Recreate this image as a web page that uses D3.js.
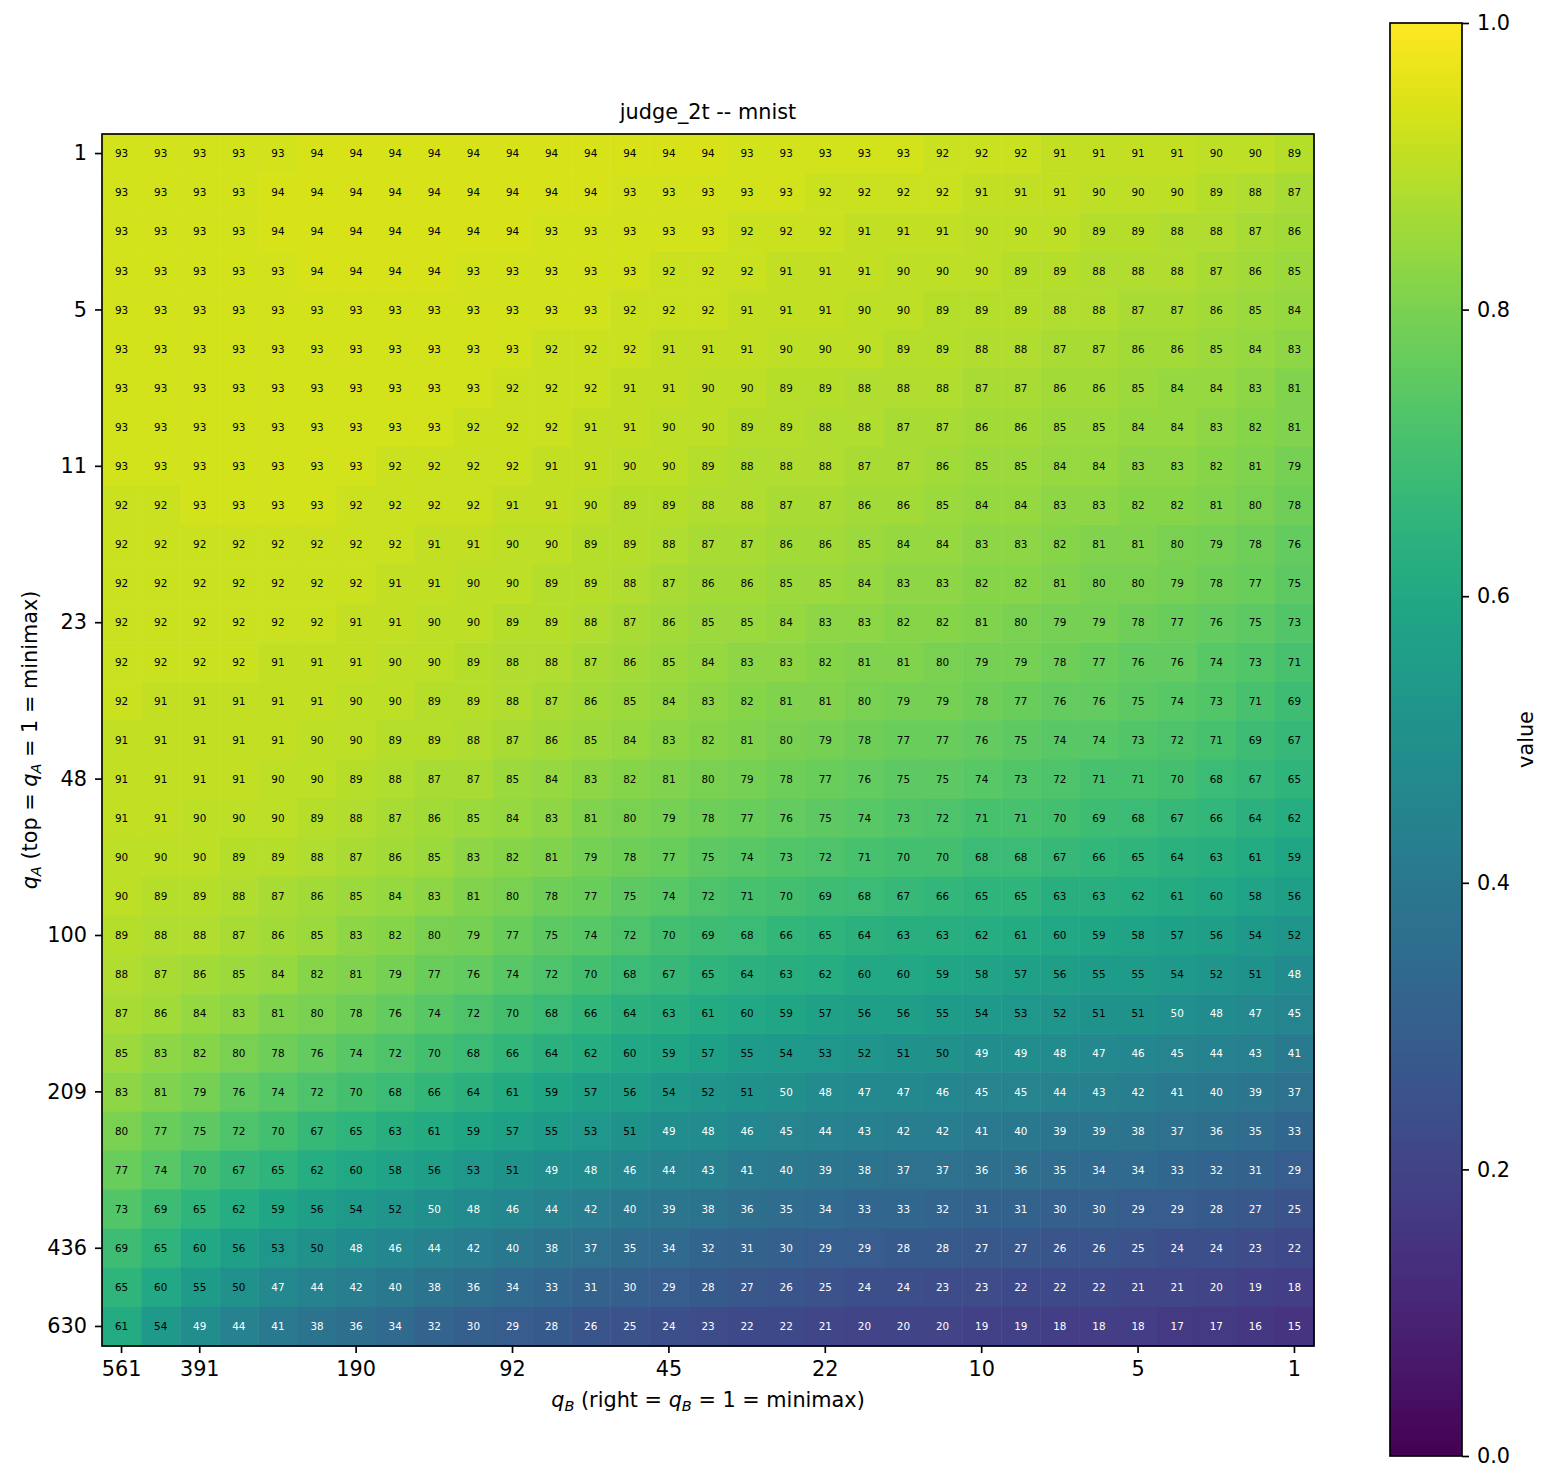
<!DOCTYPE html>
<html>
<head>
<meta charset="utf-8">
<script src="https://cdn.jsdelivr.net/npm/d3@7"></script>
<style>
  html, body { margin: 0; padding: 0; background: #fff; }
  svg text { font-family: "DejaVu Sans", sans-serif; fill: #000; }
</style>
</head>
<body>
<div id="chart"></div>
<script>
// ---------- data ----------
const chartTitle = "judge_2t -- mnist";

// row tick positions / labels (q_A), column tick positions / labels (q_B)
const qATickRows = [0, 4, 8, 12, 16, 20, 24, 28, 30];
const qATickLabels = ["1", "5", "11", "23", "48", "100", "209", "436", "630"];
const qBTickCols = [0, 2, 6, 10, 14, 18, 22, 26, 30];
const qBTickLabels = ["561", "391", "190", "92", "45", "22", "10", "5", "1"];

const colorbarTicks = [0, 0.2, 0.4, 0.6, 0.8, 1.0];

// cell values (percent), top row = q_A 1, right column = q_B 1
const scores = [
  [93,93,93,93,93,94,94,94,94,94,94,94,94,94,94,94,93,93,93,93,93,92,92,92,91,91,91,91,90,90,89],
  [93,93,93,93,94,94,94,94,94,94,94,94,94,93,93,93,93,93,92,92,92,92,91,91,91,90,90,90,89,88,87],
  [93,93,93,93,94,94,94,94,94,94,94,93,93,93,93,93,92,92,92,91,91,91,90,90,90,89,89,88,88,87,86],
  [93,93,93,93,93,94,94,94,94,93,93,93,93,93,92,92,92,91,91,91,90,90,90,89,89,88,88,88,87,86,85],
  [93,93,93,93,93,93,93,93,93,93,93,93,93,92,92,92,91,91,91,90,90,89,89,89,88,88,87,87,86,85,84],
  [93,93,93,93,93,93,93,93,93,93,93,92,92,92,91,91,91,90,90,90,89,89,88,88,87,87,86,86,85,84,83],
  [93,93,93,93,93,93,93,93,93,93,92,92,92,91,91,90,90,89,89,88,88,88,87,87,86,86,85,84,84,83,81],
  [93,93,93,93,93,93,93,93,93,92,92,92,91,91,90,90,89,89,88,88,87,87,86,86,85,85,84,84,83,82,81],
  [93,93,93,93,93,93,93,92,92,92,92,91,91,90,90,89,88,88,88,87,87,86,85,85,84,84,83,83,82,81,79],
  [92,92,93,93,93,93,92,92,92,92,91,91,90,89,89,88,88,87,87,86,86,85,84,84,83,83,82,82,81,80,78],
  [92,92,92,92,92,92,92,92,91,91,90,90,89,89,88,87,87,86,86,85,84,84,83,83,82,81,81,80,79,78,76],
  [92,92,92,92,92,92,92,91,91,90,90,89,89,88,87,86,86,85,85,84,83,83,82,82,81,80,80,79,78,77,75],
  [92,92,92,92,92,92,91,91,90,90,89,89,88,87,86,85,85,84,83,83,82,82,81,80,79,79,78,77,76,75,73],
  [92,92,92,92,91,91,91,90,90,89,88,88,87,86,85,84,83,83,82,81,81,80,79,79,78,77,76,76,74,73,71],
  [92,91,91,91,91,91,90,90,89,89,88,87,86,85,84,83,82,81,81,80,79,79,78,77,76,76,75,74,73,71,69],
  [91,91,91,91,91,90,90,89,89,88,87,86,85,84,83,82,81,80,79,78,77,77,76,75,74,74,73,72,71,69,67],
  [91,91,91,91,90,90,89,88,87,87,85,84,83,82,81,80,79,78,77,76,75,75,74,73,72,71,71,70,68,67,65],
  [91,91,90,90,90,89,88,87,86,85,84,83,81,80,79,78,77,76,75,74,73,72,71,71,70,69,68,67,66,64,62],
  [90,90,90,89,89,88,87,86,85,83,82,81,79,78,77,75,74,73,72,71,70,70,68,68,67,66,65,64,63,61,59],
  [90,89,89,88,87,86,85,84,83,81,80,78,77,75,74,72,71,70,69,68,67,66,65,65,63,63,62,61,60,58,56],
  [89,88,88,87,86,85,83,82,80,79,77,75,74,72,70,69,68,66,65,64,63,63,62,61,60,59,58,57,56,54,52],
  [88,87,86,85,84,82,81,79,77,76,74,72,70,68,67,65,64,63,62,60,60,59,58,57,56,55,55,54,52,51,48],
  [87,86,84,83,81,80,78,76,74,72,70,68,66,64,63,61,60,59,57,56,56,55,54,53,52,51,51,49.6,48,47,45],
  [85,83,82,80,78,76,74,72,70,68,66,64,62,60,59,57,55,54,53,52,51,50.2,49,49,48,47,46,45,44,43,41],
  [83,81,79,76,74,72,70,68,66,64,61,59,57,56,54,52,51,49.7,48,47,47,46,45,45,44,43,42,41,40,39,37],
  [80,77,75,72,70,67,65,63,61,59,57,55,53,51,49,48,46,45,44,43,42,42,41,40,39,39,38,37,36,35,33],
  [77,74,70,67,65,62,60,58,56,53,51,49,48,46,44,43,41,40,39,38,37,37,36,36,35,34,34,33,32,31,29],
  [73,69,65,62,59,56,54,52,49.7,48,46,44,42,40,39,38,36,35,34,33,33,32,31,31,30,30,29,29,28,27,25],
  [69,65,60,56,53,50.3,48,46,44,42,40,38,37,35,34,32,31,30,29,29,28,28,27,27,26,26,25,24,24,23,22],
  [65,60,55,50.3,47,44,42,40,38,36,34,33,31,30,29,28,27,26,25,24,24,23,23,22,22,22,21,21,20,19,18],
  [61,54,49,44,41,38,36,34,32,30,29,28,26,25,24,23,22,22,21,20,20,20,19,19,18,18,18,17,17,16,15]
];

// ---------- layout ----------
const W = 1552, H = 1484;
const plot = { left: 102, right: 1314, top: 134, bottom: 1346 };
const cbar = { left: 1390, right: 1462, top: 23, bottom: 1456 };
const FS = 20.8;      // 10pt @150dpi
const CELL_FS = 10.4; // 5pt
const LW = 1.67;

const svg = d3.select("#chart").append("svg")
  .attr("width", W).attr("height", H)
  .attr("viewBox", `0 0 ${W} ${H}`);

const nRows = scores.length, nCols = scores[0].length;

const x = d3.scaleBand().domain(d3.range(nCols)).range([plot.left, plot.right]).padding(0);
const y = d3.scaleBand().domain(d3.range(nRows)).range([plot.top, plot.bottom]).padding(0);
const color = d3.scaleSequential(d3.interpolateViridis).domain([0, 1]);

const cells = scores.flatMap((row, r) => row.map((v, c) => ({ r, c, v })));

// cells
svg.append("g").selectAll("rect")
  .data(cells)
  .enter().append("rect")
    .attr("x", d => x(d.c))
    .attr("y", d => y(d.r))
    .attr("width", x.bandwidth() + 0.5)
    .attr("height", y.bandwidth() + 0.5)
    .attr("fill", d => color(d.v / 100));

// cell labels
svg.append("g").selectAll("text")
  .data(cells)
  .enter().append("text")
    .attr("x", d => x(d.c) + x.bandwidth() / 2)
    .attr("y", d => y(d.r) + y.bandwidth() / 2)
    .attr("dy", "0.36em")
    .attr("text-anchor", "middle")
    .attr("font-size", CELL_FS)
    .style("fill", d => d.v < 50 ? "#fff" : "#000")
    .text(d => Math.round(d.v));

// frame
svg.append("rect")
  .attr("x", plot.left).attr("y", plot.top)
  .attr("width", plot.right - plot.left).attr("height", plot.bottom - plot.top)
  .attr("fill", "none").attr("stroke", "#000").attr("stroke-width", LW);

function styleAxis(g) {
  g.select(".domain").remove();
  g.selectAll(".tick line").attr("stroke", "#000").attr("stroke-width", LW);
  g.selectAll(".tick text").attr("font-size", FS).attr("font-family", "DejaVu Sans");
}

// axes
svg.append("g")
  .attr("transform", `translate(${plot.left},0)`)
  .call(d3.axisLeft(y).tickValues(qATickRows)
    .tickFormat(d => qATickLabels[qATickRows.indexOf(d)])
    .tickSize(7).tickPadding(8))
  .call(styleAxis);

svg.append("g")
  .attr("transform", `translate(0,${plot.bottom})`)
  .call(d3.axisBottom(x).tickValues(qBTickCols)
    .tickFormat(d => qBTickLabels[qBTickCols.indexOf(d)])
    .tickSize(7).tickPadding(8))
  .call(styleAxis);

// title
svg.append("text")
  .attr("x", (plot.left + plot.right) / 2).attr("y", 119)
  .attr("text-anchor", "middle").attr("font-size", FS)
  .text(chartTitle);

// math-ish label: q_S (prefix = q_S = 1 = minimax)
function mathLabel(sel, sub, word) {
  const sup = (t) => {
    sel.append("tspan").attr("font-style", "italic").text("q");
    sel.append("tspan").attr("font-style", "italic").attr("font-size", FS * 0.7)
      .attr("dy", FS * 0.2).text(t);
    return sel.append("tspan").attr("dy", -FS * 0.2);
  };
  sup(sub).text(` (${word} = `);
  sup(sub).text(" = 1 = minimax)");
}

svg.append("text")
  .attr("x", (plot.left + plot.right) / 2).attr("y", 1407)
  .attr("text-anchor", "middle").attr("font-size", FS)
  .call(mathLabel, "B", "right");

svg.append("text")
  .attr("transform", `translate(37,${(plot.top + plot.bottom) / 2}) rotate(-90)`)
  .attr("text-anchor", "middle").attr("font-size", FS)
  .call(mathLabel, "A", "top");

// ---------- colorbar ----------
const grad = svg.append("defs").append("linearGradient")
  .attr("id", "viridis").attr("x1", 0).attr("y1", 1).attr("x2", 0).attr("y2", 0);
grad.selectAll("stop")
  .data(d3.range(0, 1.0001, 0.01))
  .enter().append("stop")
    .attr("offset", d => d)
    .attr("stop-color", d => color(d));

const cy = d3.scaleLinear().domain([0, 1]).range([cbar.bottom, cbar.top]);

svg.append("rect")
  .attr("x", cbar.left).attr("y", cbar.top)
  .attr("width", cbar.right - cbar.left).attr("height", cbar.bottom - cbar.top)
  .attr("fill", "url(#viridis)")
  .attr("stroke", "#000").attr("stroke-width", LW);

svg.append("g")
  .attr("transform", `translate(${cbar.right},0)`)
  .call(d3.axisRight(cy).tickValues(colorbarTicks).tickFormat(d3.format(".1f"))
    .tickSize(7).tickPadding(8))
  .call(styleAxis);

svg.append("text")
  .attr("transform", `translate(1533,${(cbar.top + cbar.bottom) / 2}) rotate(-90)`)
  .attr("text-anchor", "middle").attr("font-size", FS)
  .text("value");
</script>
</body>
</html>
